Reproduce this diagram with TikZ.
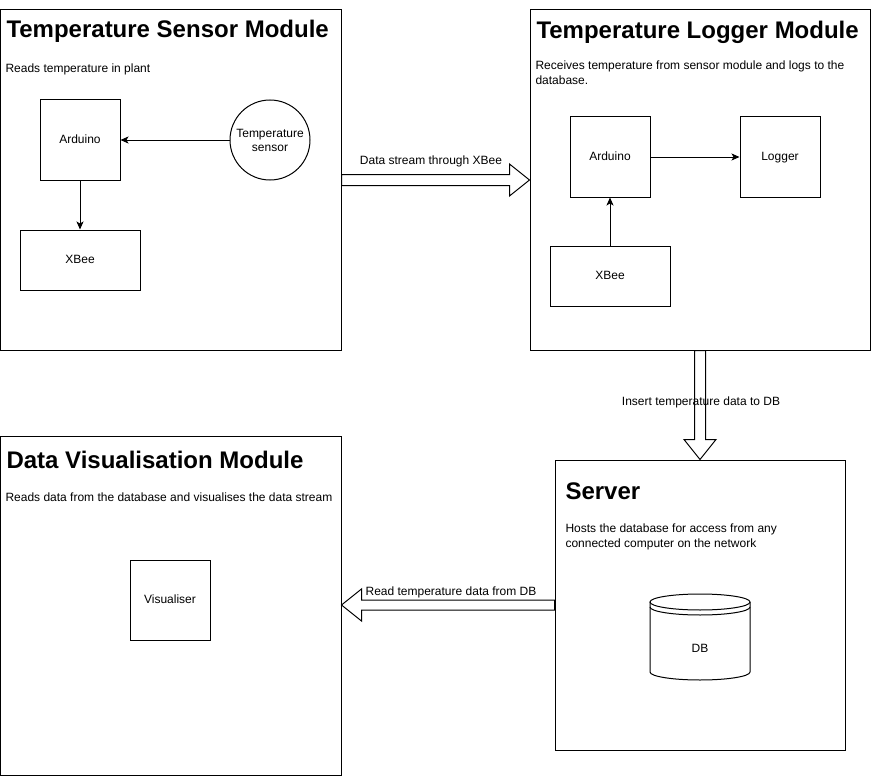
\documentclass[tikz,border=0pt]{standalone}
\usepackage{fontspec}
\setmainfont{Liberation Sans}
\usetikzlibrary{calc,arrows.meta}

\begin{document}
\begin{tikzpicture}[x=1pt,y=-1pt,line width=1pt,
    module/.style={draw,rectangle,inner sep=0},
    box/.style={draw,rectangle,minimum width=80pt,minimum height=80pt,inner sep=0,text height=9pt,text depth=2.5pt,font=\fontsize{12}{14}\selectfont},
    widebox/.style={box,minimum width=120pt,minimum height=60pt},
    title/.style={anchor=base west,inner sep=0,font=\fontsize{24}{28}\selectfont\bfseries},
    desc/.style={anchor=base west,inner sep=0,align=left,font=\fontsize{12}{14.5}\selectfont},
    flow/.style={-{Stealth[length=8pt,width=7pt,inset=2pt]}},
    bigarrow/.style={draw,fill=white},
    flowlabel/.style={inner sep=0,text height=9pt,text depth=2.5pt,font=\fontsize{12}{14}\selectfont}]
  \useasboundingbox (0,0) rectangle (871,776);

  % the four modules
  \node[module,minimum width=341pt,minimum height=340pt] (sensormod) at (170.5,180) {};
  \node[module,minimum width=340pt,minimum height=340pt] (loggermod) at (700,180) {};
  \node[module,minimum width=341pt,minimum height=339pt] (vismod) at (170.5,605.5) {};
  \node[module,minimum width=290pt,minimum height=290pt] (servermod) at (700,605) {};

  \node[title] (sensortitle) at (6,38) {Temperature Sensor Module};
  \node[desc] (sensordesc) at (5,73) {Reads temperature in plant};
  \node[title] (loggertitle) at (536,39) {Temperature Logger Module};
  \node[desc] (loggerdesc) at (535,84.5) {Receives temperature from sensor module and logs to the\\database.};
  \node[title] (vistitle) at (6,468) {Data Visualisation Module};
  \node[desc] (visdesc) at (5,501) {Reads data from the database and visualises the data stream};
  \node[title] (servertitle) at (565,499) {Server};
  \node[desc] (serverdesc) at (565,547) {Hosts the database for access from any\\connected computer on the network};

  % sensor module
  \node[box] (arduinoA) at (80,140) {Arduino};
  \node[draw,circle,minimum size=80pt,inner sep=0,align=center,font=\fontsize{12}{14}\selectfont] (tsensor) at (270,140) {Temperature\\sensor};
  \node[widebox] (xbeeA) at (80,260) {XBee};
  \draw[flow] (tsensor) -- (arduinoA);
  \draw[flow] (arduinoA) -- (xbeeA);

  % logger module
  \node[box] (arduinoB) at (610,157) {Arduino};
  \node[box] (logger) at (780,157) {Logger};
  \node[widebox] (xbeeB) at (610,276) {XBee};
  \draw[flow] (arduinoB) -- (logger);
  \draw[flow] (xbeeB) -- (arduinoB);

  % visualisation module
  \node[box] (visualiser) at (170,600) {Visualiser};

  % server: database
  \draw[fill=white] (650,602) -- (650,672) arc[start angle=180,end angle=360,x radius=50pt,y radius=8pt] -- (750,602);
  \draw (700,602) ellipse [x radius=50pt,y radius=8pt];
  \draw (650,607) arc[start angle=180,end angle=360,x radius=50pt,y radius=8pt];
  \node[flowlabel] (db) at (700,649) {DB};

  % block arrows between modules
  \draw[bigarrow] ($(sensormod.east)+(0,-5.5)$) -- ($(loggermod.west)+(-20,-5.5)$) -- ($(loggermod.west)+(-20,-16)$)
    -- (loggermod.west) -- ($(loggermod.west)+(-20,16)$) -- ($(loggermod.west)+(-20,5.5)$) -- ($(sensormod.east)+(0,5.5)$) -- cycle;
  \draw[bigarrow] ($(loggermod.south)+(-5.5,0)$) -- ($(servermod.north)+(-5.5,-20)$) -- ($(servermod.north)+(-16,-20)$)
    -- (servermod.north) -- ($(servermod.north)+(16,-20)$) -- ($(servermod.north)+(5.5,-20)$) -- ($(loggermod.south)+(5.5,0)$) -- cycle;
  \draw[bigarrow] ($(servermod.west)+(0,-5)$) -- ($(vismod.east |- servermod.west)+(20,-5)$) -- ($(vismod.east |- servermod.west)+(20,-16)$)
    -- (vismod.east |- servermod.west) -- ($(vismod.east |- servermod.west)+(20,16)$) -- ($(vismod.east |- servermod.west)+(20,5)$) -- ($(servermod.west)+(0,5)$) -- cycle;

  \node[flowlabel] (streamlabel) at (431,161) {Data stream through XBee};
  \node[flowlabel] (insertlabel) at (701,402) {Insert temperature data to DB};
  \node[flowlabel] (readlabel) at (451,592) {Read temperature data from DB};
\end{tikzpicture}
\end{document}
